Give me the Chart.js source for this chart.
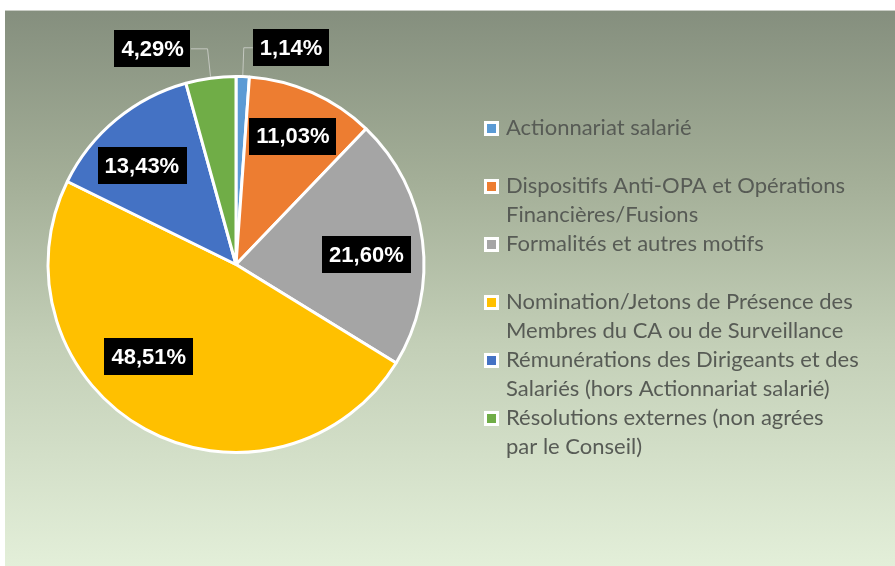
<!DOCTYPE html>
<html>
<head>
<meta charset="utf-8">
<script src="https://cdn.jsdelivr.net/npm/chart.js@4.4.1/dist/chart.umd.min.js"></script>
<style>
  html, body { margin: 0; padding: 0; background: #fff; }
  #wrap {
    position: absolute; left: 5px; top: 10px; width: 890px; height: 556px;
    background: linear-gradient(to bottom, #858f7e 0%, #a3ae97 30%, #c3cfb7 60%, #e3efd9 100%);
    border-top: 1px solid #c9cdc5;
  }
</style>
</head>
<body>
<div id="wrap"><canvas id="pieChart" width="890" height="555"></canvas></div>
<script>
// categories (legend text, one entry per line of the wrapped label)
const categories = [
    ['Actionnariat salarié'],
    ['Dispositifs Anti-OPA et Opérations', 'Financières/Fusions'],
    ['Formalités et autres motifs'],
    ['Nomination/Jetons de Présence des', 'Membres du CA ou de Surveillance'],
    ['Rémunérations des Dirigeants et des', 'Salariés (hors Actionnariat salarié)'],
    ['Résolutions externes (non agrées', 'par le Conseil)']
];
const shares = [1.14, 11.03, 21.60, 48.51, 13.43, 4.29];
const sliceColors = ['#5b9bd5', '#ed7d31', '#a5a5a5', '#ffc000', '#4472c4', '#70ad47'];

// where each value label sits: fraction of radius, and angle shift (deg) from slice middle
const labelRadius = [1.18, 0.74, 0.69, 0.67, 0.72, 1.22];
const labelShift = [12.2, 0, 3, 14.5, -4, -13.4];

function fmt(v) {
    return v.toFixed(2).replace('.', ',') + '%';
}

const valueLabels = {
    id: 'valueLabels',
    afterDatasetsDraw(chart) {
        const ctx = chart.ctx;
        const arcs = chart.getDatasetMeta(0).data;
        ctx.save();
        ctx.font = 'bold 22px "Liberation Sans", Arial, sans-serif';
        ctx.textAlign = 'center';
        ctx.textBaseline = 'middle';
        arcs.forEach((arc, i) => {
            const mid = (arc.startAngle + arc.endAngle) / 2;
            const r = arc.outerRadius + 1.5;
            const a = mid + labelShift[i] * Math.PI / 180;
            const lx = arc.x + Math.cos(a) * r * labelRadius[i];
            const ly = arc.y + Math.sin(a) * r * labelRadius[i];
            const text = fmt(chart.data.datasets[0].data[i]);
            const w = ctx.measureText(text).width + 14;
            const h = 37;

            if (labelRadius[i] > 1) {
                // leader line from the box to the slice edge
                const ax = arc.x + Math.cos(mid) * r;
                const ay = arc.y + Math.sin(mid) * r;
                const edgeX = ax > lx ? lx + w / 2 : lx - w / 2;
                ctx.strokeStyle = '#c4c8c0';
                ctx.lineWidth = 1;
                ctx.beginPath();
                ctx.moveTo(edgeX, ly);
                ctx.lineTo(ax + (ax > lx ? -3 : 1), ly);
                ctx.lineTo(ax, ay);
                ctx.stroke();
            }

            ctx.fillStyle = '#000';
            ctx.fillRect(Math.round(lx - w / 2), Math.round(ly - h / 2), Math.round(w), h);
            ctx.fillStyle = '#fff';
            ctx.fillText(text, lx, ly + 1);
        });
        ctx.restore();
    }
};

const sideLegend = {
    id: 'sideLegend',
    afterDraw(chart) {
        const ctx = chart.ctx;
        const colors = chart.data.datasets[0].backgroundColor;
        ctx.save();
        ctx.font = '22px Lato, "Noto Sans", sans-serif';
        ctx.textBaseline = 'middle';
        ctx.textAlign = 'left';
        chart.data.labels.forEach((lines, i) => {
            const y = 117 + i * 58;
            ctx.fillStyle = '#fff';
            ctx.fillRect(479, y - 7, 15, 15);
            ctx.fillStyle = colors[i];
            ctx.fillRect(482, y - 4, 9, 9);
            ctx.fillStyle = '#575b55';
            lines.forEach((line, j) => {
                ctx.fillText(line, 501, y + j * 29);
            });
        });
        ctx.restore();
    }
};

const ctx = document.getElementById('pieChart').getContext('2d');
new Chart(ctx, {
    type: 'pie',
    data: {
        labels: categories,
        datasets: [{
            data: shares,
            backgroundColor: sliceColors,
            borderColor: '#ffffff',
            borderWidth: 3
        }]
    },
    options: {
        responsive: false,
        animation: false,
        radius: 188,
        layout: { padding: { left: 10, right: 438, top: 9, bottom: 57 } },
        plugins: {
            legend: { display: false },
            tooltip: { enabled: false }
        }
    },
    plugins: [valueLabels, sideLegend]
});
</script>
</body>
</html>
